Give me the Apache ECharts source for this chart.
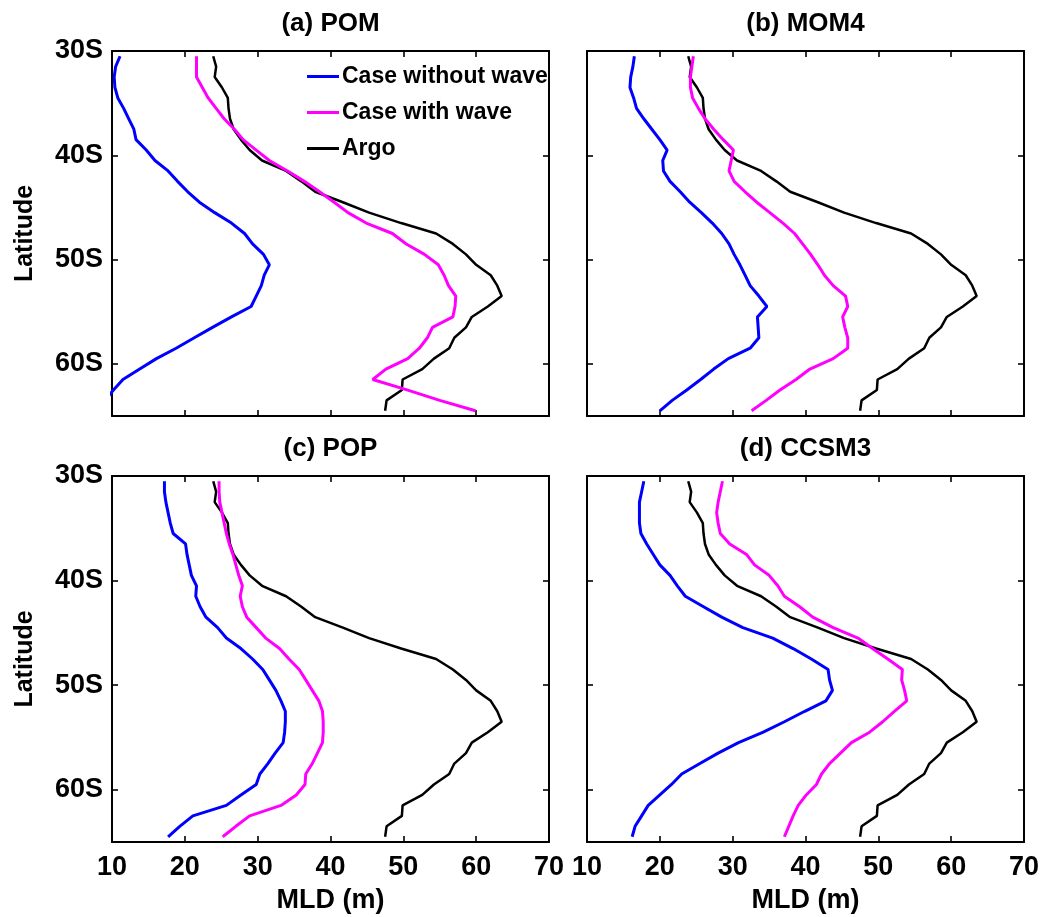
<!DOCTYPE html>
<html>
<head>
<meta charset="utf-8">
<script src="https://cdn.jsdelivr.net/npm/echarts@6/dist/echarts.min.js"></script>
<style>html,body{margin:0;padding:0;background:#fff}#c{width:1044px;height:917px}</style>
</head>
<body>
<div id="c"></div>
<script>
// Latitude (degrees south) of each profile point
const latitudes = [30.5,31.5,32.5,33.5,34.5,35.5,36.5,37.5,38.5,39.5,40.5,41.5,42.5,43.5,44.5,45.5,46.5,47.5,48.5,49.5,50.5,51.5,52.5,53.5,54.5,55.5,56.5,57.5,58.5,59.5,60.5,61.5,62.5,63.5,64.5];
// Argo observed MLD (m), identical in all panels
const argo = [23.9,24.3,24.1,25.1,25.9,26.0,26.2,26.7,27.7,28.9,30.6,33.9,36.0,37.9,41.7,45.3,49.7,54.5,56.8,58.6,60.0,62.0,62.9,63.5,61.6,59.4,58.6,57.0,56.3,54.2,52.6,49.9,49.8,47.7,47.5];
// (a) POM
const pomNoWave = [11.1,10.5,10.3,10.4,10.8,11.6,12.3,13.0,13.3,14.7,15.9,17.7,19.0,20.4,22.0,24.1,26.4,28.2,29.3,30.8,31.6,30.9,30.5,29.8,29.1,26.4,23.8,21.3,18.8,16.1,13.8,11.5,10.2,9.0,null];
const pomWave = [21.6,21.6,21.6,22.4,23.2,24.3,25.4,26.8,28.0,29.8,31.6,34.1,36.4,38.5,40.5,42.4,44.9,48.5,50.4,52.9,54.8,55.6,56.2,57.2,57.1,56.8,54.0,53.3,52.2,50.6,47.6,45.8,50.5,55.0,59.9];
// (b) MOM4
const momNoWave = [16.5,16.3,16.0,15.9,16.4,16.8,17.8,18.9,20.0,21.0,20.4,20.5,21.4,22.8,24.1,25.7,27.2,28.5,29.5,30.2,31.0,31.7,32.4,33.6,34.7,33.4,33.5,33.6,32.4,29.4,27.4,25.6,23.7,21.7,20.0];
const momWave = [24.6,24.4,24.2,24.2,24.5,25.3,26.2,27.4,28.7,30.1,29.8,29.5,30.2,31.7,33.3,35.1,36.9,38.5,39.6,40.7,41.7,42.6,43.8,45.5,45.8,45.1,45.4,45.8,45.8,43.8,40.6,38.7,36.5,34.6,32.6];
// (c) POP
const popNoWave = [17.2,17.2,17.4,17.7,18.0,18.4,20.1,20.3,20.6,20.9,21.6,21.5,22.1,22.9,24.5,25.7,27.7,29.3,30.7,31.6,32.5,33.2,33.8,33.8,33.7,33.5,32.4,31.4,30.3,29.8,27.7,25.7,21.1,19.3,17.7];
const popWave = [24.7,24.7,24.8,25.1,25.4,25.7,26.1,26.6,27.0,27.4,27.9,27.6,27.9,28.5,29.8,31.1,33.0,34.3,35.7,36.6,37.5,38.4,38.9,39.0,39.0,38.9,38.2,37.5,36.6,36.5,35.3,33.2,28.9,27.0,25.2];
// (d) CCSM3
const ccsmNoWave = [17.8,17.5,17.2,17.2,17.2,17.4,18.2,19.1,20.0,21.4,22.4,23.5,26.0,28.5,31.4,35.5,38.3,40.8,43.1,43.3,43.7,42.8,39.9,37.1,34.2,30.8,28.0,25.5,23.0,21.6,20.0,18.4,17.5,16.6,16.2];
const ccsmWave = [28.6,28.3,28.0,27.8,28.0,28.3,29.6,31.9,33.0,35.0,36.2,37.1,39.2,41.0,43.8,47.2,49.2,51.3,53.3,53.2,53.6,53.9,52.2,50.6,48.8,46.3,44.8,43.3,42.2,41.5,40.1,39.0,38.3,37.7,37.1];

const panelTitles = ['(a) POM', '(b) MOM4', '(c) POP', '(d) CCSM3'];
const seriesNames = ['Case without wave', 'Case with wave', 'Argo'];
const xTicks = [10, 20, 30, 40, 50, 60, 70];
const yTicks = [30, 40, 50, 60];

const panels = [
  [pomNoWave, pomWave, argo],
  [momNoWave, momWave, argo],
  [popNoWave, popWave, argo],
  [ccsmNoWave, ccsmWave, argo]
];

const FONT = '"Liberation Sans", Arial, Helvetica, sans-serif';
const colors = ['#0000ff', '#ff00ff', '#000000'];
const widths = [3, 3, 2.5];

const grids = [
  {left: 112, top: 51, width: 437, height: 365},
  {left: 587, top: 51, width: 437, height: 365},
  {left: 112, top: 476, width: 437, height: 366},
  {left: 587, top: 476, width: 437, height: 366}
];

const xAxes = [], yAxes = [], series = [], graphics = [];
const lineCommon = {show: true, onZero: false, lineStyle: {color: '#000', width: 2}};
const tickCommon = {show: true, inside: true, length: 6, lineStyle: {color: '#000', width: 1.6}};

grids.forEach((g, i) => {
  const bottomRow = i >= 2;
  const leftCol = i % 2 === 0;
  xAxes.push({
    type: 'value', gridIndex: i, position: 'bottom', min: xTicks[0], max: xTicks[xTicks.length - 1], interval: 10,
    axisLine: lineCommon, axisTick: tickCommon, splitLine: {show: false},
    axisLabel: {show: bottomRow, margin: 12, color: '#000', fontSize: 27, fontWeight: 'bold', fontFamily: FONT},
    name: bottomRow ? 'MLD (m)' : '', nameLocation: 'middle', nameGap: 45,
    nameTextStyle: {color: '#000', fontSize: 27, fontWeight: 'bold', fontFamily: FONT}
  });
  xAxes.push({
    type: 'value', gridIndex: i, position: 'top', min: xTicks[0], max: xTicks[xTicks.length - 1], interval: 10,
    axisLine: lineCommon, axisTick: tickCommon, splitLine: {show: false}, axisLabel: {show: false}
  });
  yAxes.push({
    type: 'value', gridIndex: i, position: 'left', min: yTicks[0], max: 65, interval: 10, inverse: true,
    axisLine: lineCommon, axisTick: tickCommon, splitLine: {show: false},
    axisLabel: {show: leftCol, margin: 9, color: '#000', fontSize: 27, fontWeight: 'bold', fontFamily: FONT,
      formatter: v => (yTicks.indexOf(v) >= 0 ? v + 'S' : '')},
    name: leftCol ? 'Latitude' : '', nameLocation: 'middle', nameGap: 74, nameRotate: 90,
    nameTextStyle: {color: '#000', fontSize: 25, fontWeight: 'bold', fontFamily: FONT}
  });
  yAxes.push({
    type: 'value', gridIndex: i, position: 'right', min: yTicks[0], max: 65, interval: 10, inverse: true,
    axisLine: lineCommon, axisTick: tickCommon, splitLine: {show: false}, axisLabel: {show: false}
  });
  panels[i].forEach((vals, k) => {
    const data = [];
    latitudes.forEach((lat, j) => { if (vals[j] !== null) data.push([vals[j], lat]); });
    series.push({
      type: 'line', name: seriesNames[k], xAxisIndex: 2 * i, yAxisIndex: 2 * i,
      data: data, symbol: 'none', showSymbol: false, clip: true, animation: false,
      color: colors[k], lineStyle: {color: colors[k], width: widths[k]}, z: 2 + (k === 2 ? 0 : 1)
    });
  });
  graphics.push({
    type: 'text', x: g.left + g.width / 2, y: g.top - 27,
    style: {text: panelTitles[i], fill: '#000', font: 'bold 26px ' + FONT, align: 'center', verticalAlign: 'middle'}
  });
});

const chart = echarts.init(document.getElementById('c'), null, {renderer: 'canvas'});
chart.setOption({
  animation: false,
  backgroundColor: '#fff',
  grid: grids,
  xAxis: xAxes,
  yAxis: yAxes,
  series: series,
  graphic: graphics,
  legend: {
    data: seriesNames, orient: 'vertical', left: 307, top: 65, padding: 0,
    icon: 'rect', itemWidth: 32, itemHeight: 3, itemGap: 13,
    textStyle: {color: '#000', fontSize: 23, fontWeight: 'bold', fontFamily: FONT, padding: [0, 0, 0, -2]},
    selectedMode: false
  }
});
</script>
</body>
</html>
